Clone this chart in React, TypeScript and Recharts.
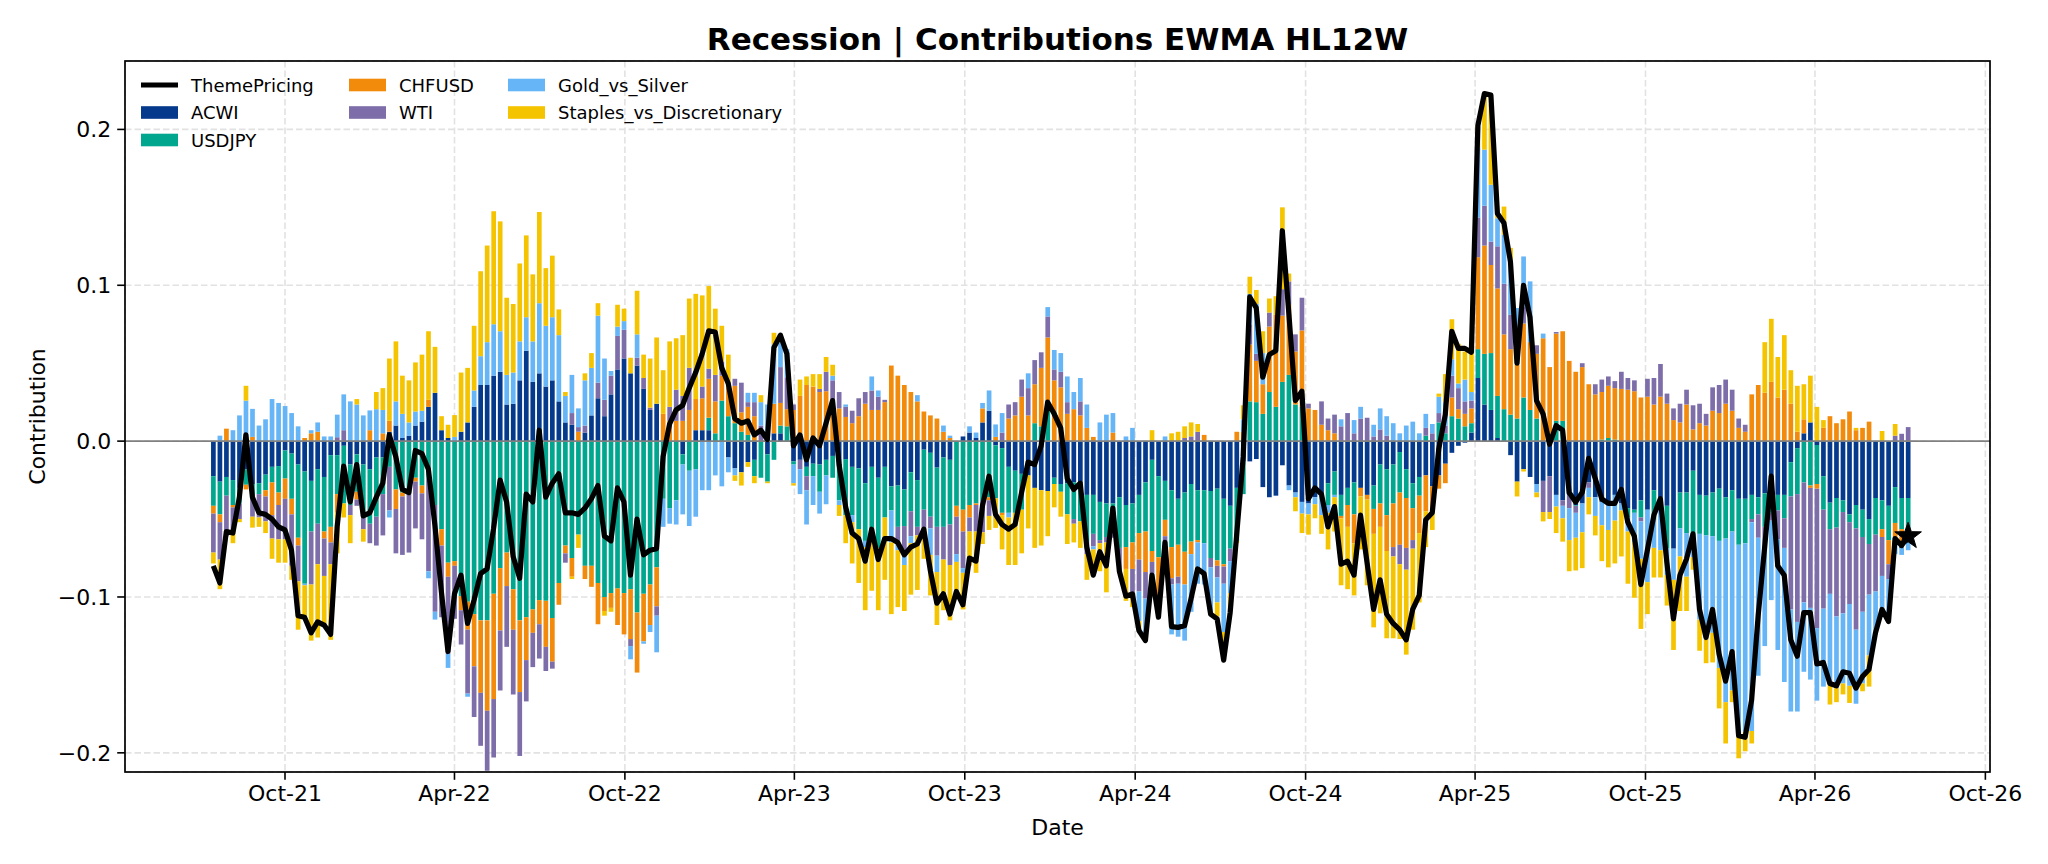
import React from 'react';
import { ComposedChart, Bar, Line, XAxis, YAxis, CartesianGrid, ReferenceLine } from 'recharts';

// Weekly observations starting on this date (one value per week)
const START_DATE = '2021-07-16';

const ACWI = [
  -0.0225, -0.026, -0.023, -0.025, -0.03, -0.018, -0.0275, -0.027, -0.0215, -0.0165,
  -0.016, -0.006, -0.008, -0.015, -0.0195, -0.0255, -0.018, -0.023, -0.009, -0.009,
  -0.003, -0.015, -0.0085, -0.015, -0.018, -0.0105, -0.0105, 0.006, 0.01, 0.002,
  0.0035, 0.01, 0.0125, 0.022, 0.031, 0.007, 0.002, 0, 0.006, 0.012,
  0.022, 0.036, 0.036, 0.042, 0.0445, 0.0235, 0.024, 0.039, 0.058, 0.038,
  0.0435, 0.035, 0.039, 0.0255, 0.012, 0.0105, 0, 0.0055, 0.0165, 0.0275,
  0.016, 0.03, 0.046, 0.053, 0.0435, 0.0485, 0.0335, 0.02, 0.024, 0,
  0, 0, -0.0085, 0, 0.007, 0.007, 0.007, 0, 0, -0.0105,
  -0.0175, -0.02, -0.0135, -0.012, 0, -0.0085, 0.005, 0.005, 0, -0.013,
  -0.012, -0.0165, -0.0145, -0.015, -0.012, -0.0095, -0.016, -0.0115, -0.0165, -0.0175,
  -0.027, -0.0165, -0.0235, -0.0165, -0.029, -0.0285, -0.031, -0.02, -0.025, -0.0055,
  -0.0075, -0.017, -0.0105, -0.012, 0, 0.003, 0.0055, 0.002, 0.012, 0.0195,
  -0.0027, -0.0045, -0.0165, -0.019, -0.021, -0.022, -0.03, -0.0315, -0.032, -0.0235,
  -0.0275, -0.027, -0.0265, -0.027, -0.0345, -0.0345, -0.039, -0.04, -0.04, -0.036,
  -0.041, -0.04, -0.0345, -0.0265, -0.012, -0.0225, -0.0255, -0.0315, -0.037, -0.033,
  -0.0275, -0.0315, -0.0315, -0.032, -0.0305, -0.037, -0.0415, -0.03, -0.013, -0.013,
  -0.0115, -0.0295, -0.036, -0.035, -0.0155, -0.0285, -0.033, -0.039, -0.04, -0.036,
  -0.035, -0.027, -0.0195, -0.0345, -0.03, -0.0265, -0.03, -0.0345, -0.0285, -0.015,
  -0.018, -0.015, -0.007, -0.018, -0.027, -0.023, -0.022, -0.029, -0.022, -0.0145,
  -0.0075, -0.003, -0.001, 0.0055, 0.0405, 0.0235, 0.02, 0.002, 0, -0.009,
  -0.026, -0.018, -0.023, -0.0275, -0.0255, -0.0225, -0.0345, -0.038, -0.0345, -0.041,
  -0.04, -0.0265, -0.036, -0.039, -0.04, -0.0345, -0.04, -0.043, -0.044, -0.038,
  -0.044, -0.0315, -0.036, -0.0415, -0.069, -0.033, -0.033, -0.019, -0.0345, -0.035,
  -0.033, -0.0305, -0.036, -0.0315, -0.037, -0.037, -0.0345, -0.036, -0.0335, -0.0345,
  -0.0345, -0.0345, -0.0135, -0.0045, 0.005, 0.012, -0.0025, -0.0225, -0.0395, -0.0365,
  -0.038, -0.047, -0.041, -0.044, -0.05, -0.0365, -0.038, -0.0415, -0.0295, -0.0365,
  -0.0365,
];

const USDJPY = [
  -0.019, -0.021, -0.012, -0.016, -0.01, -0.01, -0.008, -0.007, -0.01, -0.01,
  -0.017, -0.018, -0.029, -0.047, -0.072, -0.0325, -0.035, -0.035, -0.046, -0.025,
  -0.037, -0.026, -0.024, -0.034, -0.035, -0.038, -0.0235, -0.0165, -0.031, -0.033,
  -0.034, -0.0235, -0.0285, -0.0235, -0.041, -0.0565, -0.078, -0.077, -0.0995, -0.103,
  -0.111, -0.115, -0.115, -0.098, -0.0815, -0.0715, -0.095, -0.115, -0.113, -0.108,
  -0.102, -0.1025, -0.1135, -0.091, -0.067, -0.075, -0.06, -0.08, -0.08, -0.091,
  -0.1, -0.0975, -0.0945, -0.0975, -0.095, -0.11, -0.098, -0.092, -0.081, -0.037,
  -0.043, -0.038, -0.0065, -0.019, -0.018, 0, 0.008, 0.005, 0.026, 0.016,
  0.0115, 0.006, 0.004, -0.0105, -0.0235, -0.0175, -0.012, 0.005, 0.0095, -0.002,
  0, -0.006, -0.008, -0.0175, -0.01, -0.014, -0.022, -0.036, -0.031, -0.039,
  -0.037, -0.047, -0.045, -0.0325, -0.0155, -0.0265, -0.0235, -0.025, -0.03, -0.0385,
  -0.041, -0.038, -0.0445, -0.0415, -0.0415, -0.044, -0.041, -0.04, -0.0385, -0.036,
  -0.034, -0.0415, -0.0295, -0.027, -0.023, 0, 0.0115, 0.0095, 0.0255, -0.004,
  -0.005, -0.02, -0.0235, -0.0245, -0.03, -0.025, -0.0245, -0.0215, -0.011, -0.0325,
  -0.027, -0.025, -0.0245, -0.0315, -0.0585, -0.052, -0.025, -0.0365, -0.0295, -0.038,
  -0.037, -0.032, -0.034, -0.043, -0.046, -0.042, -0.0275, -0.034, -0.021, 0.0255,
  0.025, 0.0175, 0.0315, 0.022, 0.038, 0.0425, 0.0235, 0.022, 0, 0,
  0, -0.014, -0.015, -0.0135, -0.011, -0.0205, 0, 0, -0.015, -0.025,
  -0.0295, -0.025, -0.026, -0.0185, -0.016, -0.012, 0.0035, 0, 0.012, 0.005,
  0.016, 0.0145, 0.0095, 0.006, 0.0185, 0.0325, 0.0365, 0.027, 0.0205, 0.017,
  0.0145, 0.028, 0.02, 0.0145, 0, 0, 0.013, 0.013, 0, -0.0005,
  0, 0, 0, 0.001, 0.002, 0.001, 0, -0.006, -0.002, -0.011,
  0, -0.019, -0.0045, -0.0275, 0, -0.023, -0.026, -0.0435, -0.025, -0.0255,
  -0.028, -0.0335, -0.0265, -0.0265, -0.0295, -0.0285, -0.0155, -0.011, -0.0215, -0.0115,
  -0.01, -0.015, -0.022, -0.0295, -0.0265, -0.0285, -0.025, -0.0215, -0.017, -0.019,
  -0.0075, -0.005, -0.015, -0.0175, -0.016, -0.0235, -0.0185, -0.022, -0.023, -0.02,
  -0.02,
];

const CHFUSD = [
  -0.005, -0.005, 0.008, -0.0015, 0, -0.003, 0.0027, 0, -0.004, -0.021,
  -0.008, -0.013, -0.01, -0.005, 0.002, 0.005, 0.006, -0.0045, -0.01, -0.012,
  0, 0, -0.005, 0, 0.007, 0, 0.005, 0.007, -0.0125, -0.0025,
  0, -0.0025, -0.005, 0.0045, 0, -0.0105, -0.009, -0.003, -0.009, -0.018,
  -0.0335, -0.0465, -0.058, -0.0675, -0.04, -0.0215, -0.026, -0.046, -0.0275, -0.015,
  -0.0155, -0.0295, -0.028, -0.014, -0.005, -0.012, 0.006, -0.0085, -0.0135, -0.0265,
  -0.009, -0.0095, -0.0235, -0.0265, -0.032, -0.0385, -0.0305, -0.026, -0.025, 0.0175,
  0.013, 0.013, 0.013, 0.02, 0.02, 0.0205, 0.025, 0.0205, 0.016, 0.0185,
  0.024, 0.0125, 0.018, 0.016, 0, 0, 0.019, 0.0145, 0.011, 0.02,
  0.029, 0.036, 0.035, 0.0315, 0.032, 0.026, 0.021, 0.0155, 0.0115, 0.016,
  0.024, 0.02, 0.02, 0.025, 0.0485, 0.042, 0.036, 0.0315, 0.0255, 0.019,
  0.0165, 0.0145, 0.006, 0.002, -0.007, -0.014, -0.008, -0.001, 0.009, -0.002,
  0.0027, -0.0015, 0.0145, 0.0165, 0.0285, 0.0165, 0.025, 0.0375, 0.041, 0.039,
  0.0345, 0.0175, 0.0205, 0.0165, 0.0085, 0.0027, 0, 0, 0.0055, 0,
  -0.014, -0.017, -0.017, -0.026, -0.007, -0.027, -0.0105, -0.02, -0.0205, -0.021,
  -0.008, -0.0015, 0.004, 0, -0.0035, -0.0015, 0, 0.006, 0.006, 0.0365,
  0.0265, 0.019, 0.042, 0.059, 0.0425, 0.045, 0.034, 0.049, 0.021, 0.02,
  0.0105, 0.007, 0.005, -0.0015, -0.014, -0.0185, -0.0055, -0.003, -0.016, -0.015,
  -0.023, -0.028, -0.0335, -0.032, -0.0205, -0.024, -0.023, -0.0155, -0.0085, -0.0125,
  0.012, 0.006, 0.008, 0.0095, 0.059, 0.0695, 0.0565, 0.069, 0.048, 0.042,
  0.0345, 0.0475, 0.0435, 0.0415, 0.066, 0.0475, 0.056, 0.0575, 0.0515, 0.0445,
  0.0475, 0.0365, 0.03, 0.0305, 0.0335, 0.033, 0.0335, 0.033, 0.032, 0.028,
  0.0285, 0.0235, 0.0285, 0.024, 0.0135, 0.012, 0.0235, 0.0075, 0.0115, 0.01,
  0.0195, 0.018, 0.024, 0.0195, 0.0085, 0.006, 0.03, 0.036, 0.031, 0.038,
  0.028, 0.033, 0.024, 0.006, 0.009, -0.0015, -0.003, 0.0085, 0.016, 0.0115,
  0.014, 0.019, 0.007, 0.0085, 0.0125, 0, -0.005, -0.0155, -0.009, -0.009,
  -0.0035,
];

const WTI = [
  -0.025, -0.024, -0.026, -0.016, -0.01, 0, -0.013, -0.015, -0.016, -0.015,
  -0.022, -0.026, -0.033, -0.023, 0, -0.034, -0.026, -0.024, -0.014, 0.0025,
  0.007, -0.0065, -0.004, -0.0075, -0.0125, -0.0185, -0.0265, -0.028, -0.0285, -0.0375,
  -0.0375, -0.03, -0.0295, -0.06, -0.0685, -0.046, -0.0495, -0.034, -0.022, -0.041,
  -0.0325, -0.034, -0.0385, -0.0375, -0.0385, -0.039, -0.0415, -0.041, -0.0265, -0.022,
  -0.022, -0.0155, -0.0045, 0, -0.006, 0.0075, 0.003, 0.0045, 0, 0.01,
  0.0105, 0.012, 0.0215, 0.0185, -0.0045, 0.005, 0.007, 0.0015, -0.006, 0,
  0.009, 0.02, 0.016, 0.027, 0, 0.0075, 0.0065, 0.017, 0.009, 0,
  0.0045, 0.019, 0.003, 0.009, 0.01, 0, 0, 0.023, 0.0205, 0.0035,
  -0.006, -0.009, 0, 0.002, 0.0125, 0.013, 0.0105, 0.0065, 0.008, 0.0115,
  0.0075, 0.0125, 0.0085, 0.0015, 0, -0.009, -0.016, -0.016, -0.0055, -0.0125,
  -0.0075, -0.0185, -0.021, -0.026, -0.024, -0.0235, -0.009, -0.017, -0.02, -0.01,
  0, 0.0055, 0.009, 0.0085, 0.011, 0.0175, 0.0155, 0.01, 0.0135, 0.007,
  0.01, 0.0075, -0.003, 0.009, -0.008, -0.008, -0.002, -0.0035, -0.011, -0.015,
  0, -0.017, -0.0205, -0.017, -0.0105, 0, -0.007, -0.004, -0.0045, 0.002,
  0.003, 0.006, 0, -0.006, -0.0075, -0.011, -0.008, 0, 0, 0.0125,
  0.0045, 0, 0.009, 0, 0.017, 0.015, 0.011, 0.021, 0.003, 0,
  0.015, 0.0075, 0.012, 0.0095, 0.018, 0.005, 0.0145, 0.015, 0.003, 0.0075,
  0.0035, -0.006, -0.0125, -0.014, -0.0055, 0, 0.005, 0.005, 0.006, 0.005,
  0.014, 0.0135, 0.008, 0.005, 0.0255, 0.0255, 0.015, 0.027, 0.0325, 0.022,
  0, 0.0105, 0, 0.0055, -0.02, -0.023, 0.001, -0.0035, -0.0085, -0.0045,
  0.0025, -0.0035, 0.0065, 0.008, 0.006, 0.0045, 0.011, 0.0075, 0.007, -0.0025,
  0.0115, 0.017, 0.021, 0.0065, 0.0075, 0.012, 0.0095, 0.0155, 0.0125, 0.0075,
  0.015, 0.018, 0.0155, 0.0135, 0.006, 0.0045, -0.002, -0.015, -0.0125, -0.005,
  -0.0185, -0.019, -0.0725, -0.082, -0.077, -0.077, -0.0895, -0.0635, -0.0415, -0.057,
  -0.065, -0.0525, -0.065, -0.048, -0.0325, -0.0365, -0.025, -0.0095, 0.0035, 0.0047,
  0.009,
];

const GOLD_VS_SILVER = [
  0, 0.0035, 0, 0.007, 0.0165, 0.026, 0.018, 0.01, 0.014, 0.027,
  0.0245, 0.0225, 0.018, 0.0095, -0.001, 0.002, 0.006, 0.003, 0.003, 0.0145,
  0.023, 0.0255, 0.0235, 0.0165, 0.0127, 0.0205, 0.015, -0.0045, 0.0155, 0.0155,
  0.0085, 0.009, 0.007, -0.0045, -0.005, 0, -0.009, 0.0027, 0, -0.002,
  0.0105, 0.0185, 0.0275, 0.033, 0.026, 0.019, 0.02, 0.025, 0.0215, 0.026,
  0.045, 0.039, 0.0405, 0.0425, 0.017, 0.0245, 0.012, 0.029, 0.0305, 0.043,
  0.0265, 0.003, 0.006, 0.0055, -0.0085, 0.015, -0.0015, -0.0045, -0.0235, -0.018,
  -0.01, -0.0155, -0.032, -0.0355, -0.0305, -0.0315, -0.0315, -0.022, -0.029, -0.0095,
  -0.0045, 0, 0.006, 0.006, 0.015, 0.0235, 0.038, 0.016, 0.018, -0.012,
  -0.016, -0.022, -0.0185, -0.014, -0.0185, 0.003, -0.003, 0.0015, -0.0045, 0,
  -0.004, 0.009, 0.004, 0, -0.0205, -0.006, -0.009, -0.0045, 0.004, 0,
  -0.017, -0.0105, 0.004, 0.0015, -0.005, -0.003, 0.004, 0.0035, 0.0035, 0.013,
  0.008, 0.0125, -0.003, 0, 0, 0.0095, 0, 0, 0.006, 0.0125,
  0.012, 0.0165, 0.011, 0.015, 0.015, -0.002, 0.012, 0.017, 0.0125, 0,
  0.003, 0.0085, -0.019, -0.027, -0.005, -0.0115, 0.003, -0.032, -0.034, -0.036,
  -0.037, -0.0265, -0.0265, -0.03, -0.016, -0.031, -0.0205, 0, 0.008, 0.02,
  0.032, 0.02, 0, 0, 0, -0.003, -0.003, -0.0075, -0.007, -0.0045,
  -0.0125, -0.005, -0.0015, 0.0045, 0, 0.0085, 0.0075, 0, 0.0075, 0.0135,
  0.0125, 0.0115, 0.005, 0.01, 0.0125, 0.005, 0.009, 0.006, 0.0105, 0.015,
  0.0105, 0.003, 0.014, 0.0055, 0.045, 0.036, 0.0365, 0.018, 0.0315, 0.0355,
  0.0364, 0.0325, 0.039, -0.0055, 0.003, 0, -0.0075, -0.008, -0.0205, -0.016,
  -0.0185, -0.006, -0.012, -0.015, -0.017, -0.0165, -0.0045, -0.009, -0.019, -0.024,
  -0.0465, -0.018, -0.0295, -0.017, -0.02, -0.018, -0.028, -0.012, -0.055, -0.065,
  -0.062, -0.0815, -0.105, -0.102, -0.123, -0.121, -0.134, -0.0885, -0.064, -0.051,
  -0.071, -0.086, -0.0655, -0.0575, -0.0445, -0.046, -0.0465, -0.05, -0.0575, -0.046,
  -0.045, -0.0525, -0.0475, -0.046, -0.039, -0.0275, -0.0215, -0.027, -0.011, -0.0075,
  -0.01,
];

const STAPLES_VS_DISCRETIONARY = [
  -0.007, -0.019, 0, -0.007, -0.002, 0.0095, -0.007, -0.006, -0.0075, -0.013,
  -0.015, -0.015, -0.009, -0.031, -0.021, -0.036, -0.047, -0.0325, -0.0485, -0.026,
  -0.009, -0.018, 0.0035, -0.008, 0, 0.011, 0.014, 0.04, 0.0385, 0.0245,
  0.027, 0.0315, 0.036, 0.044, 0.0295, 0.009, 0.0085, 0.014, 0.038, 0.035,
  0.0415, 0.0545, 0.062, 0.0725, 0.0705, 0.0495, 0.044, 0.05, 0.0525, 0.043,
  0.0585, 0.037, 0.0395, 0.0165, 0.0025, -0.0015, -0.0085, 0.0045, 0.0095, 0.008,
  -0.003, -0.0025, 0.014, 0.008, 0.01, 0.028, 0.015, 0.0315, 0.0425, 0.028,
  0.042, 0.033, 0.039, 0.0445, 0.0675, 0.0585, 0.053, 0.0425, 0.023, 0.021,
  -0.0035, -0.0085, -0.003, -0.0045, 0.0045, -0.001, 0.0075, 0.005, 0, -0.0015,
  0.0105, 0.0055, 0.008, 0.0095, 0.0095, 0.007, -0.007, -0.018, -0.0265, -0.0345,
  -0.0405, -0.0325, -0.04, -0.04, -0.046, -0.0365, -0.0295, -0.033, -0.035, -0.019,
  -0.026, -0.034, -0.0325, -0.0355, -0.019, -0.0235, -0.022, -0.0265, -0.0075, -0.009,
  -0.019, -0.022, -0.0305, -0.0335, -0.028, -0.034, -0.0385, -0.0355, -0.029, -0.015,
  -0.016, -0.019, -0.012, -0.017, -0.0165, -0.013, -0.018, -0.032, 0, 0,
  -0.0205, -0.0075, -0.006, 0, 0.007, 0, 0, 0.005, 0.006, 0.0075,
  0.009, 0.005, 0, 0, -0.009, -0.018, -0.01, -0.0015, 0.009, 0.011,
  0.009, 0.014, 0.009, 0.012, 0.0525, 0.005, -0.009, -0.0125, -0.013, -0.009,
  -0.012, -0.0235, -0.022, -0.043, -0.04, -0.0335, -0.034, -0.055, -0.06, -0.0555,
  -0.056, -0.0525, -0.048, -0.0545, -0.052, -0.0445, -0.023, -0.0125, 0.002, 0.018,
  0.0257, 0.0255, 0.018, 0.0315, 0.014, 0.0355, 0.0515, 0.003, 0.018, 0.0075,
  -0.0095, -0.0015, 0, -0.003, -0.006, -0.0045, -0.017, -0.015, -0.02, -0.021,
  -0.023, -0.011, -0.0125, -0.023, -0.024, -0.0275, -0.0295, -0.0335, -0.0355, -0.045,
  -0.0205, -0.019, -0.0175, -0.0195, -0.045, -0.035, -0.022, -0.008, -0.02, -0.017,
  -0.019, -0.026, -0.0265, -0.0075, -0.014, -0.0125, -0.008, 0, 0.0325, 0.0405,
  0.026, 0.035, 0.0215, 0.0295, 0.0225, 0.03, 0.022, 0.005, -0.0135, -0.009,
  -0.007, -0.011, 0.0015, -0.005, -0.02, 0, 0.0065, 0, 0.0075, 0,
  0,
];

const THEME_PRICING = [
  -0.08, -0.091, -0.058, -0.059, -0.036, 0.004, -0.036, -0.046, -0.047, -0.05,
  -0.055, -0.057, -0.07, -0.112, -0.113, -0.123, -0.116, -0.118, -0.124, -0.055,
  -0.016, -0.039, -0.015, -0.048, -0.046, -0.036, -0.027, 0.004, -0.01, -0.031,
  -0.033, -0.006, -0.008, -0.018, -0.054, -0.097, -0.135, -0.098, -0.086, -0.117,
  -0.102, -0.085, -0.082, -0.056, -0.025, -0.039, -0.074, -0.088, -0.034, -0.039,
  0.007, -0.036, -0.027, -0.021, -0.046, -0.046, -0.047, -0.043, -0.037, -0.0285,
  -0.061, -0.064, -0.03, -0.039, -0.086, -0.05, -0.073, -0.07, -0.069, -0.01,
  0.011, 0.02, 0.023, 0.034, 0.044, 0.056, 0.0707, 0.07, 0.047, 0.037,
  0.0145, 0.0115, 0.013, 0.004, 0.007, 0.001, 0.06, 0.068, 0.056, -0.003,
  0.004, -0.012, 0.002, -0.003, 0.0115, 0.026, -0.015, -0.042, -0.059, -0.0625,
  -0.077, -0.0565, -0.076, -0.0625, -0.0625, -0.065, -0.073, -0.068, -0.066, -0.0565,
  -0.083, -0.104, -0.098, -0.111, -0.0965, -0.105, -0.075, -0.077, -0.0415, -0.0225,
  -0.047, -0.0535, -0.0565, -0.0535, -0.033, -0.0135, -0.015, -0.003, 0.025, 0.0175,
  0.0085, -0.024, -0.031, -0.027, -0.068, -0.086, -0.071, -0.08, -0.043, -0.0835,
  -0.0995, -0.098, -0.1215, -0.128, -0.086, -0.113, -0.065, -0.119, -0.1195, -0.1185,
  -0.101, -0.082, -0.085, -0.111, -0.114, -0.1405, -0.11, -0.06, -0.01, 0.0925,
  0.0855, 0.041, 0.0555, 0.058, 0.135, 0.082, 0.026, 0.032, -0.037, -0.03,
  -0.034, -0.055, -0.042, -0.079, -0.077, -0.086, -0.0475, -0.078, -0.108, -0.089,
  -0.111, -0.117, -0.121, -0.1275, -0.108, -0.099, -0.0505, -0.046, -0.005, 0.017,
  0.0705, 0.0595, 0.0595, 0.057, 0.2025, 0.223, 0.222, 0.146, 0.14, 0.115,
  0.05, 0.1, 0.0795, 0.026, 0.0175, -0.002, 0.01, 0.007, -0.033, -0.039,
  -0.033, -0.011, -0.024, -0.037, -0.04, -0.04, -0.031, -0.052, -0.061, -0.092,
  -0.07, -0.0475, -0.037, -0.078, -0.114, -0.086, -0.0757, -0.0595, -0.108, -0.126,
  -0.108, -0.1365, -0.154, -0.135, -0.189, -0.19, -0.166, -0.112, -0.068, -0.0225,
  -0.08, -0.086, -0.1275, -0.138, -0.11, -0.11, -0.143, -0.142, -0.1555, -0.157,
  -0.148, -0.149, -0.1585, -0.151, -0.1465, -0.123, -0.108, -0.1157, -0.0625, -0.067,
  -0.061,
];

const X_TICK_DATES = [
  '2021-10-01', '2022-04-01', '2022-10-01', '2023-04-01', '2023-10-01', '2024-04-01',
  '2024-10-01', '2025-04-01', '2025-10-01', '2026-04-01', '2026-10-01',
];
const X_TICK_LABELS = [
  'Oct-21', 'Apr-22', 'Oct-22', 'Apr-23', 'Oct-23', 'Apr-24',
  'Oct-24', 'Apr-25', 'Oct-25', 'Apr-26', 'Oct-26',
];
const Y_TICKS = [-0.2, -0.1, 0, 0.1, 0.2];

const SERIES = [
  { key: 'ACWI', color: '#05398c', values: ACWI },
  { key: 'USDJPY', color: '#00a78e', values: USDJPY },
  { key: 'CHFUSD', color: '#f28a0b', values: CHFUSD },
  { key: 'WTI', color: '#7d6eaa', values: WTI },
  { key: 'Gold_vs_Silver', color: '#66b5f7', values: GOLD_VS_SILVER },
  { key: 'Staples_vs_Discretionary', color: '#f5c400', values: STAPLES_VS_DISCRETIONARY },
];

const DAY_MS = 86400000;
const dayNum = (s: string) =>
  Date.UTC(+s.slice(0, 4), +s.slice(5, 7) - 1, +s.slice(8, 10)) / DAY_MS;

const startDay = dayNum(START_DATE);
const data = THEME_PRICING.map((v, i) => {
  const row: any = { x: startDay + 7 * i, ThemePricing: v };
  SERIES.forEach((s) => {
    row[s.key] = s.values[i];
  });
  return row;
});

const xTicks = X_TICK_DATES.map(dayNum);
const tickLabelOf: Record<number, string> = {};
xTicks.forEach((t, i) => {
  tickLabelOf[t] = X_TICK_LABELS[i];
});

// layout (pixels)
const W = 2048;
const H = 864;
const PLOT_L = 125;
const PLOT_R = 1990;
const PLOT_T = 61;
const PLOT_B = 772;
const PX_PER_DAY = 0.9312;
const X_MIN = xTicks[0] - (285 - PLOT_L) / PX_PER_DAY;
const X_MAX = X_MIN + (PLOT_R - PLOT_L) / PX_PER_DAY;
const Y_MIN = -0.2123;
const Y_MAX = 0.2439;

const FONT = 'DejaVu Sans, Verdana, sans-serif';

const fmtY = (v: number) => {
  const s = Math.abs(v).toFixed(1);
  return v < -1e-9 ? '\u2212' + s : s;
};

const starPoints = (cx: number, cy: number, R: number, r: number) => {
  const pts: string[] = [];
  for (let k = 0; k < 10; k++) {
    const a = -Math.PI / 2 + (k * Math.PI) / 5;
    const rad = k % 2 === 0 ? R : r;
    pts.push(`${cx + rad * Math.cos(a)},${cy + rad * Math.sin(a)}`);
  }
  return pts.join(' ');
};

const lastIndex = THEME_PRICING.length - 1;
const renderDot = (props: any) => {
  const { cx, cy, index } = props;
  if (index !== lastIndex || cx == null || cy == null) return <g key={`d${index}`} />;
  return <polygon key={`d${index}`} points={starPoints(cx, cy, 14, 5.6)} fill="#000" stroke="#000" strokeWidth={1} />;
};

const LEGEND_ITEMS = [
  { label: 'ThemePricing', color: '#000', line: true, col: 0, row: 0 },
  { label: 'ACWI', color: SERIES[0].color, col: 0, row: 1 },
  { label: 'USDJPY', color: SERIES[1].color, col: 0, row: 2 },
  { label: 'CHFUSD', color: SERIES[2].color, col: 1, row: 0 },
  { label: 'WTI', color: SERIES[3].color, col: 1, row: 1 },
  { label: 'Gold_vs_Silver', color: SERIES[4].color, col: 2, row: 0 },
  { label: 'Staples_vs_Discretionary', color: SERIES[5].color, col: 2, row: 1 },
];
const LEG_COL_X = [141, 349, 508];
const LEG_ROW_Y = [85, 112.5, 140];

export default function App() {
  return (
    <div style={{ position: 'absolute', left: 0, top: 0, width: W, height: H, background: '#fff' }}>
      <ComposedChart
        width={W}
        height={H}
        data={data}
        stackOffset="sign"
        margin={{ top: PLOT_T, right: W - PLOT_R, bottom: 0, left: 0 }}
        style={{ fontFamily: FONT }}
      >
        <CartesianGrid stroke="#e2e2e2" strokeWidth={1.6} strokeDasharray="6.5 3" />
        <XAxis
          dataKey="x"
          type="number"
          domain={[X_MIN, X_MAX]}
          allowDataOverflow
          ticks={xTicks}
          tickFormatter={(v: number) => tickLabelOf[v] ?? ''}
          height={H - PLOT_B}
          axisLine={false}
          tickLine={{ stroke: '#000', strokeWidth: 1.6 }}
          tickSize={7.8}
          tickMargin={6}
          tick={{ fill: '#000', fontSize: 22, fontFamily: FONT }}
          interval={0}
        />
        <YAxis
          type="number"
          domain={[Y_MIN, Y_MAX]}
          allowDataOverflow
          ticks={Y_TICKS}
          tickFormatter={fmtY}
          width={PLOT_L}
          axisLine={false}
          tickLine={{ stroke: '#000', strokeWidth: 1.6 }}
          tickSize={7.8}
          tickMargin={6}
          tick={{ fill: '#000', fontSize: 22, fontFamily: FONT }}
          interval={0}
        />
        {SERIES.map((s) => (
          <Bar
            key={s.key}
            dataKey={s.key}
            stackId="c"
            fill={s.color}
            barSize={4.7}
            isAnimationActive={false}
          />
        ))}
        <ReferenceLine y={0} stroke="#808080" strokeWidth={1.8} />
        <Line
          dataKey="ThemePricing"
          type="linear"
          stroke="#000"
          strokeWidth={5.2}
          strokeLinejoin="round"
          dot={renderDot}
          activeDot={false}
          isAnimationActive={false}
        />
      </ComposedChart>

      <svg
        width={W}
        height={H}
        style={{ position: 'absolute', left: 0, top: 0, pointerEvents: 'none', fontFamily: FONT }}
      >
        <rect
          x={PLOT_L}
          y={PLOT_T}
          width={PLOT_R - PLOT_L}
          height={PLOT_B - PLOT_T}
          fill="none"
          stroke="#000"
          strokeWidth={1.7}
        />
        <text x={(PLOT_L + PLOT_R) / 2} y={39} textAnchor="middle" dominantBaseline="central" fontSize={31} fontWeight="bold" fill="#000">
          Recession | Contributions EWMA HL12W
        </text>
        <text x={(PLOT_L + PLOT_R) / 2} y={827} textAnchor="middle" dominantBaseline="central" fontSize={22} fill="#000">
          Date
        </text>
        <text
          x={37}
          y={(PLOT_T + PLOT_B) / 2}
          textAnchor="middle"
          dominantBaseline="central"
          fontSize={22}
          fill="#000"
          transform={`rotate(-90 37 ${(PLOT_T + PLOT_B) / 2})`}
        >
          Contribution
        </text>
        {LEGEND_ITEMS.map((it) => {
          const x = LEG_COL_X[it.col];
          const y = LEG_ROW_Y[it.row];
          return (
            <g key={it.label}>
              {it.line ? (
                <line x1={x} x2={x + 37} y1={y} y2={y} stroke={it.color} strokeWidth={5.2} />
              ) : (
                <rect x={x} y={y - 6.3} width={37} height={12.6} fill={it.color} />
              )}
              <text x={x + 50} y={y} dominantBaseline="central" fontSize={18} fill="#000">
                {it.label}
              </text>
            </g>
          );
        })}
      </svg>
    </div>
  );
}
